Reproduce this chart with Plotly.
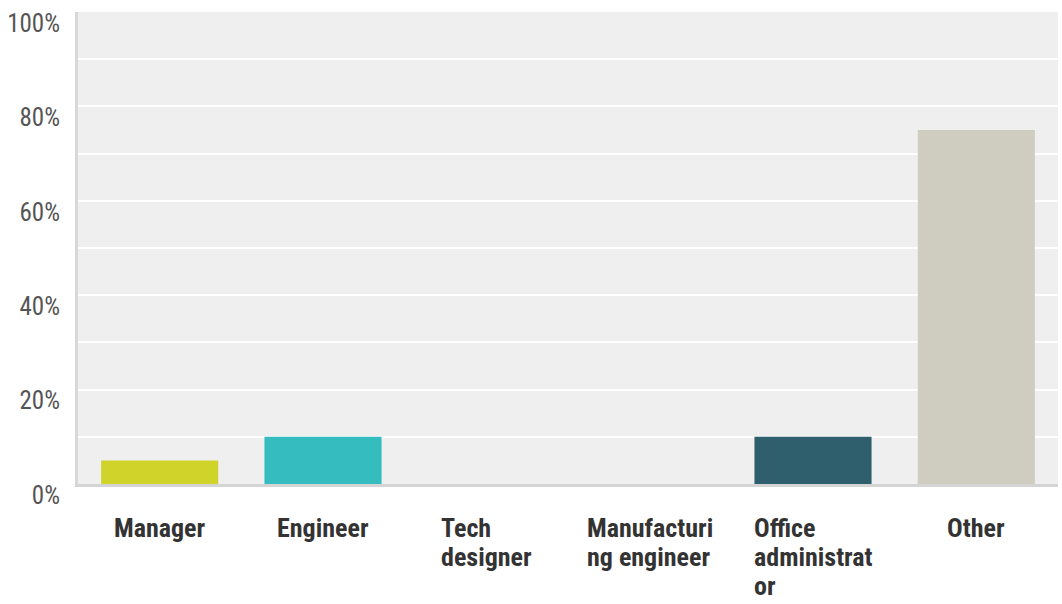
import plotly.graph_objects as go

# Survey responses by job role (share of respondents, %)
categories = ["Manager", "Engineer", "Tech designer", "Manufacturing engineer",
              "Office administrator", "Other"]
label_lines = [["Manager"], ["Engineer"], ["Tech", "designer"],
               ["Manufacturi", "ng engineer"], ["Office", "administrat", "or"], ["Other"]]
values = [5, 10, 0, 0, 10, 75]
bar_colors = ["#cfd32a", "#34bcbf", "#dddddd", "#dddddd", "#2f5f6c", "#cfcdbf"]

y_tick_vals = [0, 20, 40, 60, 80, 100]
y_tick_text = ["0%", "20%", "40%", "60%", "80%", "100%"]

NARROW = "Liberation Sans Narrow, Arial Narrow, Roboto Condensed, Liberation Sans, Arial, sans-serif"
GLYPH_SIZE = 26      # visible size of the category label glyphs
LINE_BASE = 22.3     # base size that sets the spacing between wrapped lines

fig = go.Figure(
    go.Bar(
        x=categories,
        y=values,
        marker=dict(color=bar_colors, line=dict(width=0)),
        hoverinfo="skip",
    )
)

# Wrapped category labels: lines left-aligned inside a block centred on each bar.
annotations = []
for cat, lines in zip(categories, label_lines):
    text = "<br>".join(
        f'<span style="font-size:{GLYPH_SIZE}px">{ln}</span>' for ln in lines
    )
    annotations.append(dict(
        x=cat, xref="x", y=0, yref="paper",
        xanchor="center", yanchor="top",
        text="<b>" + text + "</b>",
        align="left", showarrow=False,
        font=dict(family=NARROW, size=LINE_BASE, color="#333333"),
        yshift=-27,
    ))

fig.update_layout(
    width=1062, height=604,
    margin=dict(l=78, r=4, t=12, b=120),
    paper_bgcolor="white",
    plot_bgcolor="#efefef",
    bargap=0.283,
    showlegend=False,
    annotations=annotations,
    xaxis=dict(
        showticklabels=False, ticks="", showgrid=False, zeroline=False,
        showline=True, linecolor="#d4d4d4", linewidth=3,
    ),
    yaxis=dict(
        range=[0, 100], tickvals=y_tick_vals, ticktext=y_tick_text,
        ticks="", showgrid=True, gridcolor="white", gridwidth=2,
        minor=dict(dtick=10, tick0=0, showgrid=True, gridcolor="white", gridwidth=2),
        zeroline=False, showline=True, linecolor="#d8d8d8", linewidth=3,
        tickfont=dict(family=NARROW, size=25, color="#555555"),
        ticklabelshift=11, ticklabelstandoff=10, ticklabeloverflow="allow",
    ),
)

fig.write_html("out.html")
